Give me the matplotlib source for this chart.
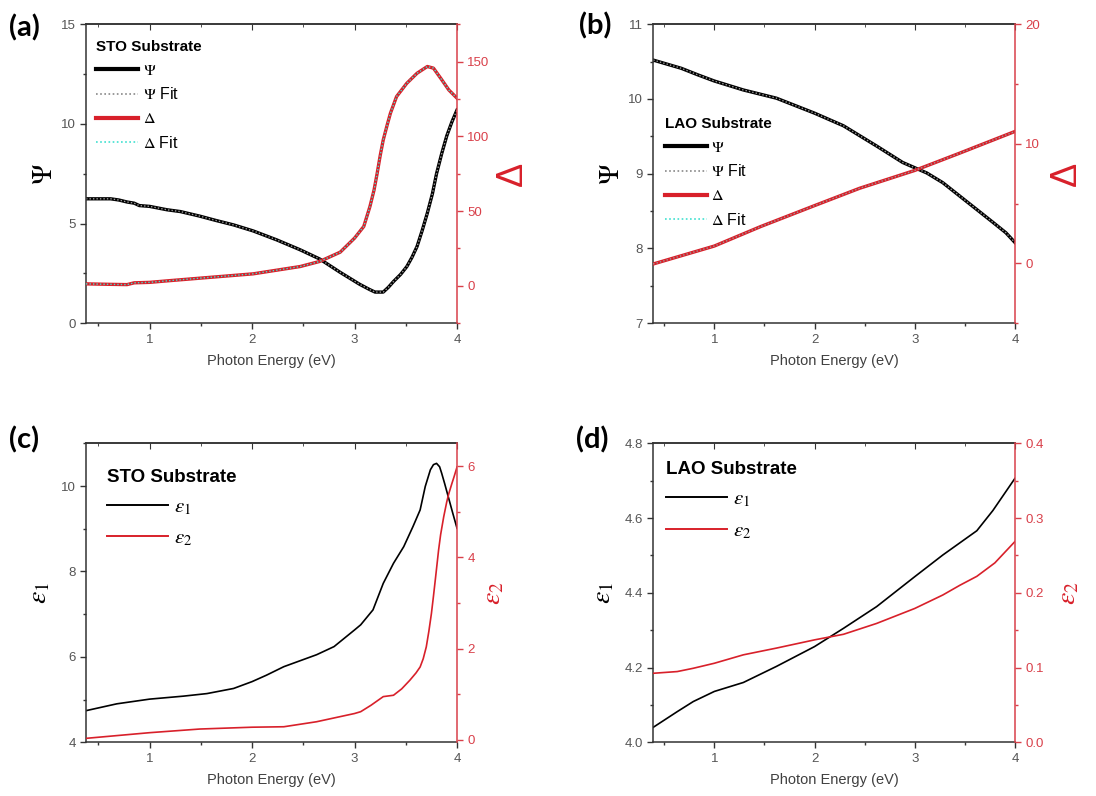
import numpy as np
import matplotlib
matplotlib.use("Agg")
import matplotlib.pyplot as plt
from matplotlib.ticker import MultipleLocator, FormatStrFormatter
from matplotlib.lines import Line2D

plt.rcParams['font.family'] = ['Liberation Sans', 'DejaVu Sans']
plt.rcParams['mathtext.fontset'] = 'stix'

# ---------------- data ----------------
# (a) STO substrate: Psi and Delta
a_psi_x = [0.38, 0.50, 0.62, 0.70, 0.78, 0.85, 0.90, 1.00, 1.17, 1.30, 1.49, 1.65, 1.82, 2.01, 2.24,
           2.47, 2.66, 2.86, 3.05, 3.15, 3.20, 3.28, 3.33, 3.38, 3.45, 3.51, 3.56, 3.61, 3.66, 3.71,
           3.76, 3.80, 3.85, 3.90, 3.95, 4.00]
a_psi_y = [6.24, 6.24, 6.24, 6.18, 6.08, 6.02, 5.90, 5.86, 5.69, 5.60, 5.37, 5.15, 4.93, 4.63, 4.18,
           3.68, 3.22, 2.55, 1.95, 1.68, 1.56, 1.56, 1.80, 2.09, 2.45, 2.84, 3.30, 3.85, 4.65, 5.52,
           6.50, 7.50, 8.50, 9.40, 10.1, 10.7]
a_del_x = [0.38, 0.60, 0.78, 0.85, 1.00, 1.17, 1.49, 2.01, 2.47, 2.66, 2.86, 3.00, 3.09, 3.15, 3.19,
           3.22, 3.25, 3.28, 3.32, 3.35, 3.41, 3.51, 3.61, 3.71, 3.77, 3.84, 3.92, 4.00]
a_del_y = [1.3, 1.0, 0.8, 2.0, 2.3, 3.3, 5.1, 8.0, 12.9, 16.3, 22.5, 31.9, 39.7, 53, 64,
           75, 87, 97.6, 108, 115.4, 126.6, 135.5, 142.2, 146.7, 145.6, 138.9, 131, 125.5]

# (b) LAO substrate: Psi and Delta
b_psi_x = [0.39, 0.67, 0.84, 1.00, 1.29, 1.62, 2.00, 2.29, 2.62, 2.88, 3.00, 3.12, 3.28, 3.45, 3.62,
           3.78, 3.91, 4.00]
b_psi_y = [10.52, 10.41, 10.32, 10.24, 10.12, 10.01, 9.81, 9.64, 9.37, 9.15, 9.08, 9.01, 8.88, 8.70,
           8.52, 8.35, 8.21, 8.08]
b_del_x = [0.39, 1.00, 1.46, 2.00, 2.45, 3.00, 3.45, 4.00]
b_del_y = [-0.05, 1.45, 3.07, 4.83, 6.28, 7.77, 9.22, 11.03]

# (c) STO substrate: eps1, eps2
c_e1_x = [0.38, 0.68, 1.00, 1.33, 1.56, 1.82, 2.00, 2.14, 2.31, 2.63, 2.80, 3.00, 3.06, 3.18, 3.28,
          3.38, 3.48, 3.57, 3.64, 3.69, 3.74, 3.77, 3.80, 3.83, 3.85, 3.88, 3.92, 3.96, 4.00]
c_e1_y = [4.74, 4.90, 5.01, 5.08, 5.14, 5.26, 5.42, 5.57, 5.77, 6.05, 6.24, 6.63, 6.75, 7.10, 7.72,
          8.19, 8.58, 9.05, 9.44, 9.99, 10.38, 10.50, 10.53, 10.45, 10.30, 10.05, 9.70, 9.35, 9.01]
c_e2_x = [0.38, 1.00, 1.49, 2.00, 2.31, 2.63, 3.00, 3.06, 3.16, 3.28, 3.38, 3.46, 3.54, 3.60, 3.64,
          3.67, 3.70, 3.725, 3.75, 3.77, 3.79, 3.82, 3.84, 3.87, 3.90, 3.92, 3.95, 3.97, 4.00]
c_e2_y = [0.036, 0.16, 0.24, 0.28, 0.29, 0.40, 0.58, 0.62, 0.76, 0.95, 0.98, 1.12, 1.31, 1.47, 1.60,
          1.78, 2.04, 2.38, 2.77, 3.15, 3.55, 4.16, 4.50, 4.89, 5.22, 5.40, 5.62, 5.76, 5.98]

# (d) LAO substrate: eps1, eps2
d_e1_x = [0.39, 0.63, 0.79, 1.00, 1.29, 1.62, 2.00, 2.29, 2.62, 3.00, 3.28, 3.62, 3.78, 4.00]
d_e1_y = [4.040, 4.082, 4.109, 4.136, 4.160, 4.203, 4.256, 4.305, 4.363, 4.443, 4.501, 4.566, 4.620, 4.706]
d_e2_x = [0.39, 0.63, 0.79, 1.00, 1.29, 1.62, 2.00, 2.29, 2.62, 3.00, 3.28, 3.45, 3.62, 3.80, 4.00]
d_e2_y = [0.0923, 0.0946, 0.099, 0.1057, 0.117, 0.126, 0.137, 0.1445, 0.159, 0.179, 0.197, 0.21,
          0.222, 0.24, 0.2685]

# ---------------- styling ----------------
RED = '#d8202a'
RED_AX = '#d9404a'
TICK_C = '#555555'
SPINE_C = '#333333'
CYAN = '#3fe0d0'

fig = plt.figure(figsize=(10.96, 7.96), dpi=100)

pos = {
    'a': [0.0785, 0.594, 0.3385, 0.3756],
    'b': [0.596, 0.594, 0.330, 0.3756],
    'c': [0.0785, 0.0675, 0.3385, 0.3756],
    'd': [0.596, 0.0675, 0.330, 0.3756],
}


def setup(ax, xmin, ylim, ymaj, ymin, y2lim, y2maj, y2min):
    ax.set_xlim(xmin, 4)
    ax.set_ylim(*ylim)
    ax.xaxis.set_major_locator(MultipleLocator(1))
    ax.xaxis.set_minor_locator(MultipleLocator(0.5))
    ax.yaxis.set_major_locator(MultipleLocator(ymaj))
    ax.yaxis.set_minor_locator(MultipleLocator(ymin))
    ax.tick_params(which='both', direction='out', colors=SPINE_C, labelcolor=TICK_C,
                   labelsize=9.5, top=False, right=False)
    ax.tick_params(which='major', length=4, width=1)
    ax.tick_params(which='minor', length=2.5, width=1)
    for s in ['left', 'bottom', 'top']:
        ax.spines[s].set_color(SPINE_C)
        ax.spines[s].set_linewidth(1.1)
    ax.spines['right'].set_visible(False)
    sec = ax.secondary_xaxis('top')
    sec.xaxis.set_major_locator(MultipleLocator(1))
    sec.xaxis.set_minor_locator(MultipleLocator(0.5))
    sec.tick_params(which='both', direction='in', labeltop=False, colors=SPINE_C)
    sec.tick_params(which='major', length=4)
    sec.tick_params(which='minor', length=2.5)
    sec.spines['top'].set_color(SPINE_C)
    sec.spines['top'].set_linewidth(1.1)
    ax.set_xlabel('Photon Energy (eV)', fontsize=10.5, color='#404040', labelpad=6)

    ax2 = ax.twinx()
    ax2.set_ylim(*y2lim)
    ax2.yaxis.set_major_locator(MultipleLocator(y2maj))
    ax2.yaxis.set_minor_locator(MultipleLocator(y2min))
    ax2.tick_params(which='both', direction='out', colors=RED_AX, labelcolor=RED_AX, labelsize=9.5)
    ax2.tick_params(which='major', length=4, width=1)
    ax2.tick_params(which='minor', length=2.5, width=1)
    ax2.spines['right'].set_color(RED_AX)
    ax2.spines['right'].set_linewidth(1.1)
    for s in ['left', 'bottom', 'top']:
        ax2.spines[s].set_visible(False)
    return ax2


def legend(ax2, handles, labels, title, anchor, fs, tfs, hl, lsp):
    leg = ax2.legend(handles, labels, title=title, loc='upper left', bbox_to_anchor=anchor,
                     frameon=False, fontsize=fs, handlelength=hl, handletextpad=0.3,
                     labelspacing=lsp, borderpad=0, borderaxespad=0, alignment='left',
                     title_fontproperties={'weight': 'bold', 'size': tfs})
    return leg


# ---------------- (a) ----------------
ax = fig.add_axes(pos['a'])
ax2 = setup(ax, 0.38, (0, 15), 5, 2.5, (-25, 175), 50, 25)
ax.plot(a_psi_x, a_psi_y, color='black', lw=2.4)
ax.plot(a_psi_x, a_psi_y, color='#9a9a9a', lw=1.0, ls=(0, (1, 1.5)))
ax2.plot(a_del_x, a_del_y, color=RED, lw=2.4)
ax2.plot(a_del_x, a_del_y, color=CYAN, lw=1.0, ls=(0, (1, 1.5)))
ax.set_ylabel(r'$\Psi$', fontsize=20, labelpad=2)
ax2.set_ylabel('Δ', fontsize=26, color=RED, rotation=90, labelpad=4)
hs = [Line2D([], [], color='black', lw=3), Line2D([], [], color='#888888', lw=1.2, ls=(0, (1, 1.5))),
      Line2D([], [], color=RED, lw=3), Line2D([], [], color=CYAN, lw=1.2, ls=(0, (1, 1.5)))]
legend(ax2, hs, [r'$\Psi$', r'$\Psi$ Fit', r'$\Delta$', r'$\Delta$ Fit'], 'STO Substrate',
       (0.028, 0.948), 11.5, 11, 2.6, 0.55)

# ---------------- (b) ----------------
ax = fig.add_axes(pos['b'])
ax2 = setup(ax, 0.39, (7, 11), 1, 0.5, (-5, 20), 10, 5)
ax.plot(b_psi_x, b_psi_y, color='black', lw=2.4)
ax.plot(b_psi_x, b_psi_y, color='#9a9a9a', lw=1.0, ls=(0, (1, 1.5)))
ax2.plot(b_del_x, b_del_y, color=RED, lw=2.4)
ax2.plot(b_del_x, b_del_y, color='#9a9a9a', lw=1.0, ls=(0, (1, 1.5)))
ax.set_ylabel(r'$\Psi$', fontsize=20, labelpad=2)
ax2.set_ylabel('Δ', fontsize=26, color=RED, rotation=90, labelpad=6)
legend(ax2, hs, [r'$\Psi$', r'$\Psi$ Fit', r'$\Delta$', r'$\Delta$ Fit'], 'LAO Substrate',
       (0.033, 0.69), 11.5, 11, 2.6, 0.55)

# ---------------- (c) ----------------
ax = fig.add_axes(pos['c'])
ax2 = setup(ax, 0.38, (4, 11), 2, 1, (-0.05, 6.5), 2, 1)
ax.plot(c_e1_x, c_e1_y, color='black', lw=1.2)
ax2.plot(c_e2_x, c_e2_y, color=RED, lw=1.2)
ax.set_ylabel(r'$\varepsilon_1$', fontsize=20, labelpad=6)
ax2.set_ylabel(r'$\varepsilon_2$', fontsize=20, color=RED, rotation=90, labelpad=4)
hs2 = [Line2D([], [], color='black', lw=1.4), Line2D([], [], color=RED, lw=1.4)]
legend(ax2, hs2, [r'$\varepsilon_1$', r'$\varepsilon_2$'], 'STO Substrate',
       (0.057, 0.915), 15, 13.5, 2.9, 0.55)

# ---------------- (d) ----------------
ax = fig.add_axes(pos['d'])
ax2 = setup(ax, 0.39, (4.0, 4.8), 0.2, 0.1, (0.0, 0.4), 0.1, 0.05)
ax.yaxis.set_major_formatter(FormatStrFormatter('%.1f'))
ax2.yaxis.set_major_formatter(FormatStrFormatter('%.1f'))
ax.plot(d_e1_x, d_e1_y, color='black', lw=1.2)
ax2.plot(d_e2_x, d_e2_y, color=RED, lw=1.2)
ax.set_ylabel(r'$\varepsilon_1$', fontsize=20, labelpad=6)
ax2.set_ylabel(r'$\varepsilon_2$', fontsize=20, color=RED, rotation=90, labelpad=8)
legend(ax2, hs2, [r'$\varepsilon_1$', r'$\varepsilon_2$'], 'LAO Substrate',
       (0.036, 0.94), 15, 13.5, 2.9, 0.55)

# panel labels
for lab, x, y in [('(a)', 0.008, 0.965), ('(b)', 0.528, 0.968), ('(c)', 0.008, 0.447), ('(d)', 0.526, 0.447)]:
    fig.text(x, y, lab, fontsize=21, weight='bold', va='center', ha='left', family=['Lato', 'DejaVu Sans'])

fig.savefig('out.png', dpi=100)
